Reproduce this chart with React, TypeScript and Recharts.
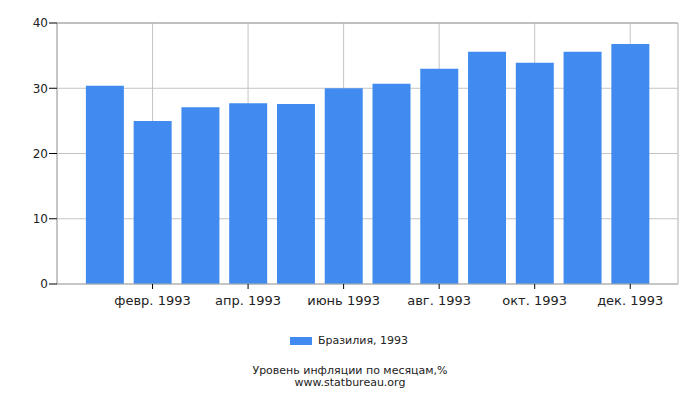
import React from "react";
import { BarChart, Bar, XAxis, YAxis, CartesianGrid, ReferenceLine } from "recharts";

const months = [1, 2, 3, 4, 5, 6, 7, 8, 9, 10, 11, 12];
const values = [30.4, 25.0, 27.1, 27.7, 27.6, 30.0, 30.7, 33.0, 35.6, 33.9, 35.6, 36.8];
const xTicks = [2, 4, 6, 8, 10, 12];
const xTickLabels = ["февр. 1993", "апр. 1993", "июнь 1993", "авг. 1993", "окт. 1993", "дек. 1993"];
const yTicks = [0, 10, 20, 30, 40];
const seriesName = "Бразилия, 1993";
const titleLines = ["Уровень инфляции по месяцам,%", "www.statbureau.org"];

const data = months.map((m, i) => ({ m, v: values[i] }));

const FONT = "'DejaVu Sans', sans-serif";
const BLUE = "#418bf0";

export default function App() {
  return (
    <div style={{ position: "absolute", left: 0, top: 0, width: 700, height: 400, background: "#fff", fontFamily: FONT }}>
      <BarChart width={700} height={400} data={data} margin={{ top: 23, right: 22, bottom: 86, left: 0 }}>
        <CartesianGrid stroke="#c4c4c4" strokeWidth={1} />
        <XAxis
          dataKey="m"
          type="number"
          domain={[0, 13]}
          ticks={xTicks}
          tickFormatter={(v: number) => xTickLabels[xTicks.indexOf(v)] ?? ""}
          height={30}
          axisLine={{ stroke: "#aaaaaa" }}
          tickLine={{ stroke: "#000" }}
          tickSize={5}
          tickMargin={7}
          tick={{ fill: "#222", fontSize: 13, fontFamily: FONT }}
          interval={0}
          allowDataOverflow
        />
        <YAxis
          type="number"
          domain={[0, 40]}
          ticks={yTicks}
          width={57}
          axisLine={{ stroke: "#aaaaaa" }}
          tickLine={{ stroke: "#000" }}
          tickSize={8}
          tickMargin={1}
          tick={{ fill: "#222", fontSize: 12, fontFamily: FONT }}
        />
        <ReferenceLine y={40} stroke="#a0a0a0" />
        <ReferenceLine x={13} stroke="#cccccc" />
        <Bar dataKey="v" fill={BLUE} barSize={38} isAnimationActive={false} />
      </BarChart>
      <div style={{ position: "absolute", top: 334, left: 0, width: 700, display: "flex", justifyContent: "center", alignItems: "center", fontSize: 11, color: "#222" }}>
        <span style={{ display: "inline-block", width: 22, height: 8, background: BLUE, marginRight: 4, position: "relative", left: -2 }} />
        <span>{seriesName}</span>
      </div>
      <div style={{ position: "absolute", top: 365, left: 0, width: 700, textAlign: "center", fontSize: 11, lineHeight: "12px", color: "#222" }}>
        {titleLines.map((t) => (
          <div key={t}>{t}</div>
        ))}
      </div>
    </div>
  );
}
